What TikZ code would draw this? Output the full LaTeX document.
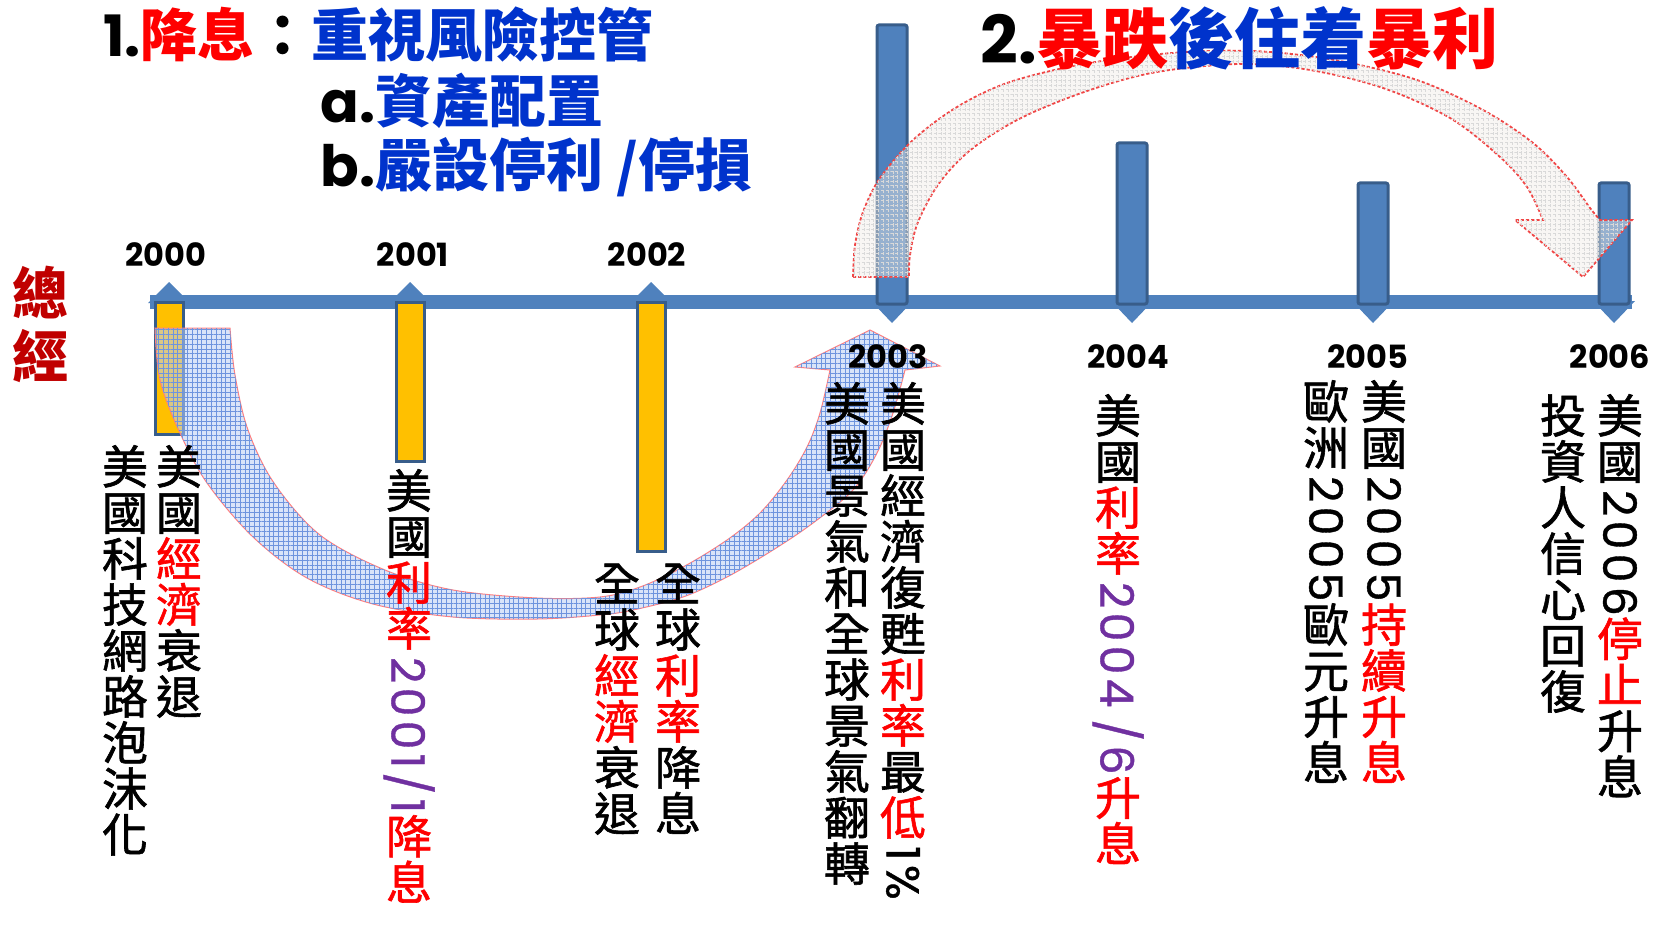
\documentclass[tikz,border=0pt]{standalone}
\usepackage{fontspec}
\usepackage{graphicx}
\usetikzlibrary{patterns,patterns.meta}
\setmainfont{Noto Sans CJK TC}
\newfontfamily\cjkm{Noto Sans CJK TC}[FakeBold=1.3]
\newfontfamily\pop{Poppins}
\newfontfamily\popc{Poppins}[LetterSpace=9, FakeBold=0.8]
\definecolor{tlblue}{RGB}{79,129,189}
\definecolor{tledge}{RGB}{56,93,138}
\definecolor{barorange}{RGB}{255,192,0}
\definecolor{ttblue}{RGB}{0,51,204}
\definecolor{tred}{RGB}{255,0,0}
\definecolor{tpurple}{RGB}{112,48,160}
\definecolor{dred}{RGB}{192,0,0}
\definecolor{arrblue}{RGB}{186,206,244}
\definecolor{gridblue}{RGB}{110,148,222}
\definecolor{arrgrey}{RGB}{240,236,230}
\definecolor{redline}{RGB}{240,70,70}
\newcommand\Rd{\color{tred}}
\newcommand\Pu{\color{tpurple}}
\newcommand\Bl{\color{ttblue}}
\newcommand\Ch[1]{\hbox to 1.1em{\hss\vrule width0pt height0.86em depth0.14em #1\hss}}
\newcommand\Lt[1]{\hbox to 1.1em{\hss\raisebox{0.86em}{\rotatebox{-90}{\popc\kern0.1em#1\kern0.02em}}\hss}}
\newcommand\VC[1]{\vbox{\baselineskip=1em\lineskip=0pt\lineskiplimit=0pt #1}}
\tikzset{
  col/.style={anchor=north, inner sep=0pt, font=\cjkm\fontsize{23}{23}\selectfont},
  yr/.style={inner sep=0pt, font=\pop\bfseries\fontsize{16}{16}\selectfont},
  ttl/.style={anchor=west, inner sep=0pt, font=\bfseries\fontsize{28.5}{28.5}\selectfont},
  obar/.style={fill=barorange, draw=tledge, line width=1.5pt},
  bbar/.style={fill=tlblue, draw=tledge, line width=1.5pt, rounded corners=1pt},
  barrow/.style={fill=arrblue, fill opacity=0.55, draw=red!50, line width=0.5pt,
     postaction={pattern={Hatch[angle=0,distance=2.4pt,line width=0.3pt]}, pattern color=gridblue}},
  rarrow/.style={fill=arrgrey, fill opacity=0.45, draw=redline, line width=0.9pt,
     dash pattern=on 1.6pt off 1pt,
     postaction={pattern={Hatch[angle=0,distance=2.4pt,line width=0.3pt]}, pattern color=gray!30, draw=none}},
}
\begin{document}
\begin{tikzpicture}[x=0.5pt,y=-0.5pt]
\useasboundingbox (0,0) rectangle (1673,925);
% timeline
\draw[tlblue, line width=7pt] (150,302) -- (1632,302);
\foreach \cx in {169,410,651}
  \fill[tlblue] (\cx-21,303) -- (\cx,282) -- (\cx+21,303) -- cycle;
\foreach \cx in {892,1132,1373,1614}
  \fill[tlblue] (\cx-21,301) -- (\cx,323) -- (\cx+21,301) -- cycle;
% bars
\draw[obar] (155,302) rectangle (183,434);
\draw[obar] (396,302) rectangle (424,461);
\draw[obar] (637,302) rectangle (665,551);
\draw[bbar] (877,25) rectangle (907,304);
\draw[bbar] (1117,143) rectangle (1147,304);
\draw[bbar] (1358,183) rectangle (1388,304);
\draw[bbar] (1599,183) rectangle (1629,304);
% blue curved arrow
\path[barrow] (155,328) -- (230,328) -- plot[smooth,tension=0.55] coordinates {(230,328) (235,375) (248,430) (274,483) (320,535) (385,570) (453,590) (537,598) (600,597) (640,587) (683,567) (727,540) (760,513) (787,480) (807,447) (820,413) (830,370)}
  -- (795,367) -- (870,330) -- (940,366) -- (905,370)
  -- plot[smooth,tension=0.55] coordinates {(905,370) (893,413) (877,453) (853,490) (813,523) (773,550) (727,577) (683,597) (633,610) (600,615) (537,619) (453,617) (373,604) (307,578) (253,537) (207,483) (180,433) (160,380) (155,328)} -- cycle;
% red curved arrow
\path[rarrow] (853,277) -- plot[smooth,tension=0.55] coordinates {(853,277) (855,245) (863,212) (880,178) (913,140) (957,107) (1007,83) (1073,66) (1140,56) (1207,51) (1270,52) (1340,61) (1417,80) (1483,110) (1533,143) (1567,177) (1590,208) (1600,220)}
  -- (1632,220) -- (1583,277) -- (1515,220) -- (1543,220)
  -- plot[smooth,tension=0.55] coordinates {(1543,220) (1527,187) (1500,157) (1450,118) (1383,88) (1310,70) (1240,64) (1157,72) (1090,90) (1023,117) (973,148) (940,182) (918,222) (910,255) (909,277)} -- cycle;
% titles
\node[ttl] (t1) at (103,35) {{\pop 1.}{\Rd 降息}：{\Bl 重視風險控管}};
\node[ttl] (ta) at (320,101) {{\pop a.}{\Bl 資產配置}};
\node[ttl] (tb) at (320,167) {{\pop b.}{\Bl 嚴設停利 /停損}};
\node[ttl, font=\bfseries\fontsize{33}{33}\selectfont] (t2) at (980,38) {{\pop 2.}{\Rd 暴跌}{\Bl 後住着}{\Rd 暴利}};
\node[anchor=north, inner sep=0pt, text=dred, font=\bfseries\fontsize{28}{28}\selectfont] (zj) at (40,266)
  {\vbox{\baselineskip=1.12em\lineskip=0pt\lineskiplimit=0pt\Ch{總}\Ch{經}}};
% years
\node[yr] (y2000) at (166,255) {2000};
\node[yr] (y2001) at (413,255) {2001};
\node[yr] (y2002) at (647,255) {2002};
\node[yr] (y2003) at (888,357) {2003};
\node[yr] (y2004) at (1128,357) {2004};
\node[yr] (y2005) at (1368,357) {2005};
\node[yr] (y2006) at (1610,357) {2006};
% columns
\node[col] (c2000R) at (179,444) {\VC{\Ch{美}\Ch{國}\Ch{\Rd 經}\Ch{\Rd 濟}\Ch{衰}\Ch{退}}};
\node[col] (c2000L) at (125,444) {\VC{\Ch{美}\Ch{國}\Ch{科}\Ch{技}\Ch{網}\Ch{路}\Ch{泡}\Ch{沫}\Ch{化}}};
\node[col] (c2001) at (409,468) {\VC{\Ch{美}\Ch{國}\Ch{\Rd 利}\Ch{\Rd 率}\Lt{\Pu 2001/1}\Ch{\Rd 降}\Ch{\Rd 息}}};
\node[col] (c2002R) at (678,561) {\VC{\Ch{全}\Ch{球}\Ch{\Rd 利}\Ch{\Rd 率}\Ch{降}\Ch{息}}};
\node[col] (c2002L) at (617,561) {\VC{\Ch{全}\Ch{球}\Ch{\Rd 經}\Ch{\Rd 濟}\Ch{衰}\Ch{退}}};
\node[col] (c2003R) at (903,381) {\VC{\Ch{美}\Ch{國}\Ch{經}\Ch{濟}\Ch{復}\Ch{甦}\Ch{\Rd 利}\Ch{\Rd 率}\Ch{最}\Ch{\Rd 低}\Lt{1\%}}};
\node[col] (c2003L) at (847,381) {\VC{\Ch{美}\Ch{國}\Ch{景}\Ch{氣}\Ch{和}\Ch{全}\Ch{球}\Ch{景}\Ch{氣}\Ch{翻}\Ch{轉}}};
\node[col] (c2004) at (1118,393) {\VC{\Ch{美}\Ch{國}\Ch{\Rd 利}\Ch{\Rd 率}\Lt{\Pu 2004\kern-0.1em{} /6}\Ch{\Rd 升}\Ch{\Rd 息}}};
\node[col] (c2005R) at (1384,379) {\VC{\Ch{美}\Ch{國}\Lt{2005}\Ch{\Rd 持}\Ch{\Rd 續}\Ch{\Rd 升}\Ch{\Rd 息}}};
\node[col] (c2005L) at (1326,379) {\VC{\Ch{歐}\Ch{洲}\Lt{2005}\Ch{歐}\Ch{元}\Ch{升}\Ch{息}}};
\node[col] (c2006R) at (1620,393) {\VC{\Ch{美}\Ch{國}\Lt{2006}\Ch{\Rd 停}\Ch{\Rd 止}\Ch{升}\Ch{息}}};
\node[col] (c2006L) at (1563,393) {\VC{\Ch{投}\Ch{資}\Ch{人}\Ch{信}\Ch{心}\Ch{回}\Ch{復}}};
\end{tikzpicture}
\end{document}
